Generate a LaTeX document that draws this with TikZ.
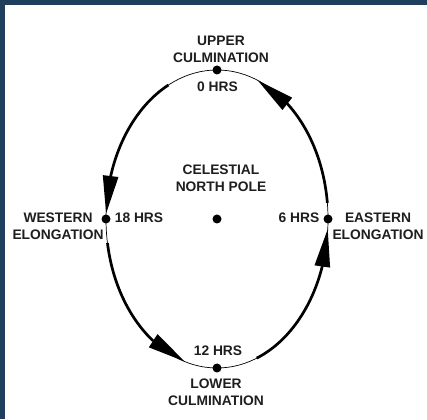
\documentclass[tikz,border=0pt]{standalone}
\usepackage{fontspec}
\setmainfont{Liberation Sans}
\usetikzlibrary{arrows.meta,bending,calc}
\definecolor{frameblue}{RGB}{31,63,92}
\definecolor{txt}{RGB}{30,30,30}
\begin{document}
\begin{tikzpicture}[
  lbl/.style={font=\fontsize{13.8pt}{16.8pt}\selectfont\bfseries, text=txt, align=center, inner sep=0pt},
  dot/.style={circle, fill=black, minimum size=9pt, inner sep=0pt},
  thickarc/.style={line width=2.7pt, -{Triangle[length=38pt,width=15pt,flex]}},
  thinarc/.style={line width=0.7pt},
  ell/.style={x radius=111pt, y radius=149pt}
]
\useasboundingbox (0pt,0pt) rectangle (427pt,419pt);
\fill[white] (0pt,0pt) rectangle (427pt,419pt);
\fill[frameblue] (0pt,414pt) rectangle (427pt,419pt);
\fill[frameblue] (0pt,0pt) rectangle (5pt,419pt);

\coordinate (C) at (217pt,200pt);
% thin full ellipse
\draw[thinarc] (C) ellipse [ell];
% arc start coordinates
\coordinate (s1) at ($(C)+(116:111pt and 149pt)$);
\coordinate (s2) at ($(C)+(189.3:111pt and 149pt)$);
\coordinate (s3) at ($(C)+(291:111pt and 149pt)$);
\coordinate (s4) at ($(C)+(6.2:111pt and 149pt)$);
\draw[thickarc] (s1) arc[ell, start angle=116, end angle=178];
\draw[thickarc] (s2) arc[ell, start angle=189.3, end angle=253.2];
\draw[thickarc] (s3) arc[ell, start angle=291, end angle=356.2];
\draw[thickarc] (s4) arc[ell, start angle=6.2, end angle=68.6];

% dots
\node[dot] (top) at ($(C)+(90:111pt and 149pt)$) {};
\node[dot] (bot) at ($(C)+(270:111pt and 149pt)$) {};
\node[dot] (west) at ($(C)+(180:111pt and 149pt)$) {};
\node[dot] (east) at ($(C)+(0:111pt and 149pt)$) {};
\node[dot] (pole) at (C) {};

% labels
\node[lbl] (uc) at (221pt,370pt) {UPPER\\CULMINATION};
\node[lbl] (h0) at (217.5pt,332pt) {0 HRS};
\node[lbl] (cnp) at (221pt,241pt) {CELESTIAL\\NORTH POLE};
\node[lbl] (we) at (58pt,193pt) {WESTERN\\ELONGATION};
\node[lbl] (h18) at (139pt,201pt) {18 HRS};
\node[lbl] (h6) at (299pt,201pt) {6 HRS};
\node[lbl] (ee) at (378pt,193pt) {EASTERN\\ELONGATION};
\node[lbl] (h12) at (218pt,68pt) {12 HRS};
\node[lbl] (lc) at (216pt,27pt) {LOWER\\CULMINATION};
\end{tikzpicture}
\end{document}
